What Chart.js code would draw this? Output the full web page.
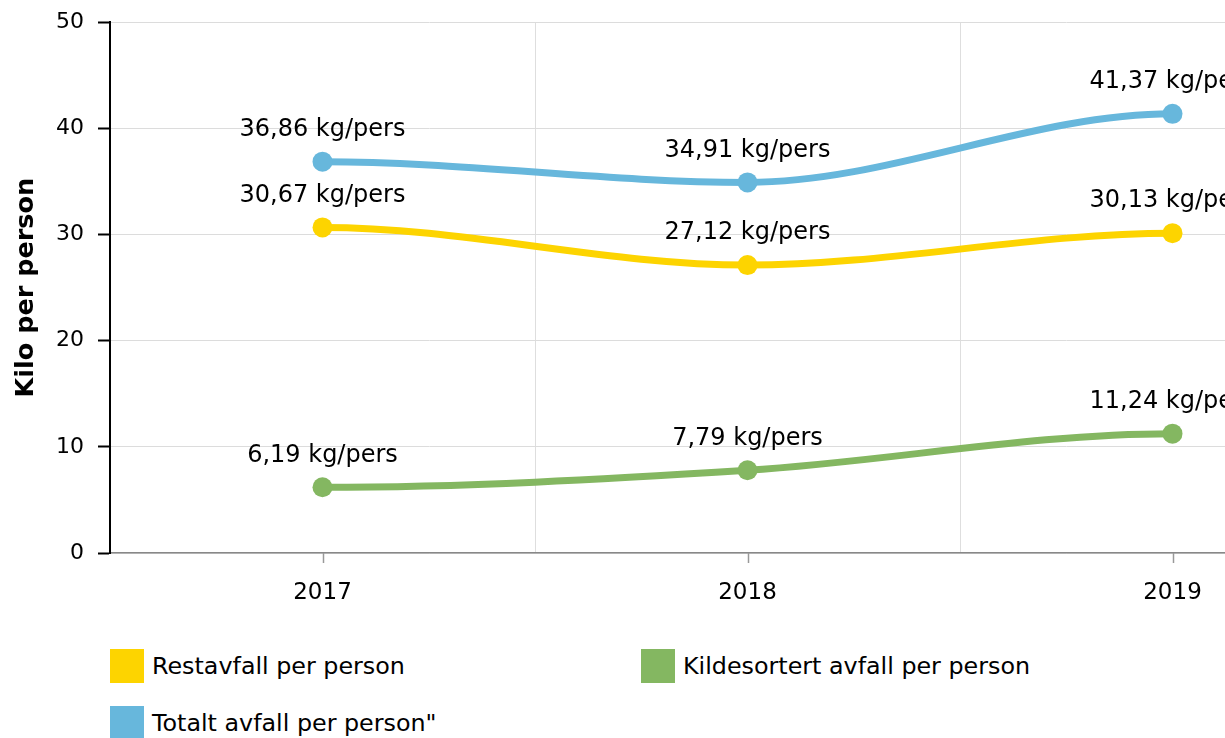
<!DOCTYPE html>
<html>
<head>
<meta charset="utf-8">
<script src="https://cdn.jsdelivr.net/npm/chart.js@4/dist/chart.umd.min.js"></script>
<style>
  html, body { margin: 0; padding: 0; background: #fff; overflow: hidden; }
  body { width: 1225px; height: 738px; position: relative; font-family: "DejaVu Sans", Verdana, sans-serif; }
  #wrap { position: absolute; left: 0; top: -5px; width: 1400px; height: 615px; }
  .legend-item { position: absolute; display: flex; align-items: center; font-size: 23.8px; color: #000; white-space: nowrap; }
  .legend-item .box { width: 34px; height: 34px; margin-right: 8px; }
</style>
</head>
<body>
<div id="wrap"><canvas id="chart"></canvas></div>
<div id="legend"></div>
<script>
// data
const years = ['2017', '2018', '2019'];
const restavfall = [30.67, 27.12, 30.13];
const kildesortert = [6.19, 7.79, 11.24];
const totalt = [36.86, 34.91, 41.37];
const seriesNames = ['Restavfall per person', 'Kildesortert avfall per person', 'Totalt avfall per person"'];
const seriesColors = ['#fdd400', '#84b761', '#67b7dc'];
const yTicks = [0, 10, 20, 30, 40, 50];
const unit = 'kg/pers';

const FONT = '"DejaVu Sans", Verdana, sans-serif';

// tick marks under the x axis at the middle of each category
const centerTicks = {
  id: 'centerTicks',
  afterDraw(chart) {
    const x = chart.scales.x;
    const ctx = chart.ctx;
    ctx.save();
    ctx.strokeStyle = '#999';
    ctx.lineWidth = 1.5;
    years.forEach((y, i) => {
      const px = Math.round(x.getPixelForValue(i)) + 0.5;
      ctx.beginPath();
      ctx.moveTo(px, x.top);
      ctx.lineTo(px, x.top + 10);
      ctx.stroke();
    });
    ctx.restore();
  }
};

// flat ends of the smoothed lines
const flatEnds = {
  id: 'flatEnds',
  beforeDatasetDraw(chart, args) {
    const line = args.meta.dataset;
    line.updateControlPoints(chart.chartArea, 'x');
    const pts = line.points;
    if (pts.length > 1) {
      pts[0].cp2y = pts[0].y;
      pts[pts.length - 1].cp1y = pts[pts.length - 1].y;
    }
    line._path = undefined;
  }
};

// value labels above the points
const valueLabels = {
  id: 'valueLabels',
  afterDatasetsDraw(chart) {
    const ctx = chart.ctx;
    ctx.save();
    ctx.font = '24px ' + FONT;
    ctx.fillStyle = '#000';
    ctx.textAlign = 'center';
    ctx.textBaseline = 'middle';
    chart.data.datasets.forEach((ds, di) => {
      const meta = chart.getDatasetMeta(di);
      meta.data.forEach((pt, i) => {
        const txt = ds.data[i].toFixed(2).replace('.', ',') + ' ' + unit;
        ctx.fillText(txt, pt.x, pt.y - 32);
      });
    });
    ctx.restore();
  }
};

const ctx = document.getElementById('chart').getContext('2d');
new Chart(ctx, {
  type: 'line',
  data: {
    labels: years,
    datasets: [
      { label: seriesNames[0], data: restavfall, borderColor: seriesColors[0], backgroundColor: seriesColors[0] },
      { label: seriesNames[1], data: kildesortert, borderColor: seriesColors[1], backgroundColor: seriesColors[1] },
      { label: seriesNames[2], data: totalt, borderColor: seriesColors[2], backgroundColor: seriesColors[2] }
    ]
  },
  options: {
    responsive: true,
    maintainAspectRatio: false,
    animation: false,
    layout: { padding: { top: 17, right: 15, left: 0, bottom: 0 } },
    elements: {
      line: { borderWidth: 7, cubicInterpolationMode: 'monotone', fill: false },
      point: { radius: 10, hoverRadius: 10, borderWidth: 0 }
    },
    plugins: {
      legend: { display: false },
      tooltip: { enabled: false }
    },
    scales: {
      x: {
        offset: true,
        grid: { offset: true, color: '#dedede', lineWidth: 1, drawTicks: false },
        border: { color: '#888', width: 1.5 },
        ticks: { color: '#000', font: { family: FONT, size: 23 }, padding: 26 },
        afterFit(scale) { scale.height = 57; }
      },
      y: {
        min: 0,
        max: 50,
        afterBuildTicks(scale) { scale.ticks = yTicks.map(v => ({ value: v })); },
        grid: { color: '#dcdcdc', lineWidth: 1, tickLength: 12, tickColor: '#000', tickWidth: 2 },
        border: { color: '#000', width: 2 },
        ticks: { color: '#000', font: { family: FONT, size: 22 }, padding: 14 },
        title: {
          display: true,
          text: 'Kilo per person',
          color: '#000',
          font: { family: FONT, size: 25.5, weight: 'bold' },
          padding: { top: 11, bottom: 0 }
        },
        afterFit(scale) { scale.width = 110; }
      }
    }
  },
  plugins: [centerTicks, flatEnds, valueLabels]
});

// legend
const legendPos = [[110, 649], [641, 649], [110, 706]];
const legend = document.getElementById('legend');
seriesNames.forEach((name, i) => {
  const item = document.createElement('div');
  item.className = 'legend-item';
  item.style.left = legendPos[i][0] + 'px';
  item.style.top = legendPos[i][1] + 'px';
  item.innerHTML = '<span class="box" style="background:' + seriesColors[i] + '"></span><span>' + name + '</span>';
  legend.appendChild(item);
});
</script>
</body>
</html>
